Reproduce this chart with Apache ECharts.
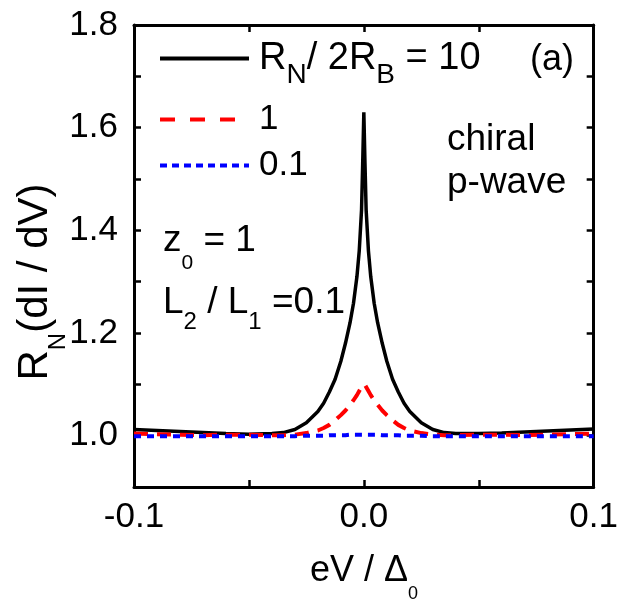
<!DOCTYPE html>
<html>
<head>
<meta charset="utf-8">
<script src="https://cdn.jsdelivr.net/npm/echarts@6/dist/echarts.min.js"></script>
<style>
  html, body { margin: 0; padding: 0; background: #fff; }
  #chart { width: 621px; height: 602px; }
</style>
</head>
<body>
<div id="chart"></div>
<script>
  // bias eV / Delta0 (denser near the zero-bias peak)
  var eV = [-0.1, -0.09, -0.08, -0.07, -0.06, -0.05, -0.04, -0.035, -0.03, -0.025, -0.02, -0.0175,
    -0.015, -0.0125, -0.01, -0.008, -0.006, -0.0045, -0.003, -0.002, -0.001, -0.0005, 0,
    0.0005, 0.001, 0.002, 0.003, 0.0045, 0.006, 0.008, 0.01, 0.0125, 0.015, 0.0175, 0.02,
    0.025, 0.03, 0.035, 0.04, 0.05, 0.06, 0.07, 0.08, 0.09, 0.1];
  // RN / 2RB = 10
  var ratio10 = [1.012, 1.010, 1.008, 1.006, 1.004, 1.003, 1.004, 1.006, 1.012, 1.025, 1.047, 1.063,
    1.085, 1.110, 1.145, 1.180, 1.220, 1.258, 1.310, 1.360, 1.440, 1.530, 1.630,
    1.530, 1.440, 1.360, 1.310, 1.258, 1.220, 1.180, 1.145, 1.110, 1.085, 1.063, 1.047,
    1.025, 1.012, 1.006, 1.004, 1.004, 1.005, 1.007, 1.009, 1.011, 1.013];
  // RN / 2RB = 1
  var ratio1 = [1.004, 1.003, 1.002, 1.001, 1.002, 1.002, 1.001, 1.001, 1.002, 1.005, 1.010, 1.015,
    1.021, 1.030, 1.040, 1.049, 1.060, 1.069, 1.079, 1.087, 1.095, 1.099, 1.102,
    1.099, 1.095, 1.087, 1.079, 1.069, 1.060, 1.049, 1.040, 1.030, 1.021, 1.015, 1.010,
    1.005, 1.002, 1.001, 1.001, 1.002, 1.002, 1.001, 1.002, 1.003, 1.004];
  // RN / 2RB = 0.1
  var ratio01 = [0.999, 0.999, 0.999, 0.999, 0.999, 0.999, 0.999, 0.999, 0.999, 1.000, 1.000, 1.000,
    1.001, 1.001, 1.001, 1.001, 1.002, 1.002, 1.002, 1.002, 1.002, 1.002, 1.002,
    1.002, 1.002, 1.002, 1.002, 1.002, 1.002, 1.001, 1.001, 1.001, 1.001, 1.000, 1.000,
    1.000, 0.999, 0.999, 0.999, 0.999, 0.999, 0.999, 0.999, 0.999, 0.999];
  var xLabels = ["-0.1", "0.0", "0.1"];
  var yLabels = ["1.0", "1.2", "1.4", "1.6", "1.8"];

  var FONT = "'Liberation Sans', Arial, sans-serif";
  var chartDom = echarts.init(document.getElementById("chart"), null, {renderer: "canvas"});

  function pairs(ys){
    return eV.map(function (x, i) { return [x, ys[i]]; });
  }
  function frameAxis(extra){
    var ax = {
      axisLine: {show: true, onZero: false, lineStyle: {color: "#000", width: 3}},
      axisTick: {show: true, inside: true, length: 7, lineStyle: {color: "#000", width: 2.5}},
      splitLine: {show: false},
      axisLabel: {show: false}
    };
    for (var k in extra) ax[k] = extra[k];
    return ax;
  }
  var tickLabel = {color: "#000", fontFamily: FONT, fontSize: 35};
  // legend entries: line only, no symbol in the middle
  function legendAt(extra){
    var lg = {left: 158, padding: 0, itemHeight: 10, selectedMode: false,
      itemStyle: {opacity: 0, borderWidth: 0}};
    for (var j in extra) lg[j] = extra[j];
    return lg;
  }

  var option = {
    animation: false,
    backgroundColor: "#fff",
    grid: {left: 134, top: 25, width: 461, height: 462, containLabel: false},
    xAxis: [
      frameAxis({type: "value", position: "bottom", min: -0.1, max: 0.1, interval: 0.05,
        axisLabel: Object.assign({show: true, margin: 13, showMaxLabel: true, showMinLabel: true,
          formatter: function (v) {
            var s = v.toFixed(1);
            return xLabels.indexOf(s) >= 0 && Math.abs(v * 10 - Math.round(v * 10)) < 1e-6 ? s : "";
          }}, tickLabel)}),
      frameAxis({type: "value", position: "top", min: -0.1, max: 0.1, interval: 0.05})
    ],
    yAxis: [
      frameAxis({type: "value", position: "left", min: 0.9, max: 1.8, interval: 0.1,
        axisLabel: Object.assign({show: true, margin: 16,
          formatter: function (v) {
            var s = v.toFixed(1);
            return yLabels.indexOf(s) >= 0 ? s : "";
          }}, tickLabel)}),
      frameAxis({type: "value", position: "right", min: 0.9, max: 1.8, interval: 0.1})
    ],
    legend: [
      legendAt({data: ["n10"], top: 28, itemWidth: 89, lineStyle: {width: 4},
        formatter: function () { return "{m|R}{s|N}{m|/ 2R}{s|B}{m| = 10}"; },
        textStyle: {padding: [0, 0, 0, 5], rich: {
          m: {fontSize: 38, lineHeight: 38, fontFamily: FONT, color: "#000"},
          s: {fontSize: 28, lineHeight: 28, fontFamily: FONT, color: "#000", padding: [33, 0, 0, 0]}
        }}}),
      legendAt({data: ["n1"], top: 102, itemWidth: 75, lineStyle: {width: 4, type: [15, 15]},
        formatter: function () { return "1"; },
        textStyle: {padding: [0, 0, 0, 19], fontSize: 35, lineHeight: 35, fontFamily: FONT, color: "#000"}}),
      legendAt({data: ["n01"], top: 148, itemWidth: 89, lineStyle: {width: 4, type: [7, 5]},
        formatter: function () { return "0.1"; },
        textStyle: {padding: [0, 0, 0, 5], fontSize: 35, lineHeight: 35, fontFamily: FONT, color: "#000"}})
    ],
    graphic: [
      {type: "text", left: 530, top: 42, style: {text: "(a)", font: "36px " + FONT, fill: "#000"}},
      {type: "text", x: 447, y: 140, style: {text: "chiral", font: "37px " + FONT, fill: "#000", verticalAlign: "middle"}},
      {type: "text", x: 447, y: 183, style: {text: "p-wave", font: "37px " + FONT, fill: "#000", verticalAlign: "middle"}},
      {type: "text", x: 163, y: 241, style: {
        text: "{m|z}{s|0}{m| = 1}", verticalAlign: "middle",
        rich: {m: {fontSize: 37, lineHeight: 37, fontFamily: FONT, fill: "#000"},
               s: {fontSize: 21, lineHeight: 21, fontFamily: FONT, fill: "#000", padding: [45, 0, 0, 0]}}}},
      {type: "text", x: 163, y: 303, style: {
        text: "{m|L}{s|2}{m| / L}{s|1}{m| =0.1}", verticalAlign: "middle",
        rich: {m: {fontSize: 37, lineHeight: 37, fontFamily: FONT, fill: "#000"},
               s: {fontSize: 24, lineHeight: 24, fontFamily: FONT, fill: "#000", padding: [38, 0, 0, 0]}}}},
      {type: "text", x: 364, y: 571, style: {
        text: "{m|eV / \u0394}{s|0}", align: "center", verticalAlign: "middle",
        rich: {m: {fontSize: 36, lineHeight: 36, fontFamily: FONT, fill: "#000"},
               s: {fontSize: 18, lineHeight: 18, fontFamily: FONT, fill: "#000", padding: [47, 0, 0, 0]}}}},
      {type: "text", x: 35, y: 282, rotation: Math.PI / 2, style: {
        text: "{m|R}{s|N}{m|(dI / dV)}", align: "center", verticalAlign: "middle",
        rich: {m: {fontSize: 42, lineHeight: 42, fontFamily: FONT, fill: "#000"},
               s: {fontSize: 24, lineHeight: 24, fontFamily: FONT, fill: "#000", padding: [46, 0, 0, 0]}}}}
    ],
    series: [
      {name: "n10", type: "line", data: pairs(ratio10), symbol: "none", smooth: false, z: 3,
        lineStyle: {color: "#000", width: 3.5}, itemStyle: {color: "#000"}},
      {name: "n1", type: "line", data: pairs(ratio1), symbol: "none", smooth: false, z: 4,
        lineStyle: {color: "#ff0000", width: 4, type: [14, 9]}, itemStyle: {color: "#ff0000"}},
      {name: "n01", type: "line", data: pairs(ratio01), symbol: "none", smooth: false, z: 5,
        lineStyle: {color: "#0000ff", width: 4, type: [7, 6]}, itemStyle: {color: "#0000ff"}}
    ]
  };
  chartDom.setOption(option);
</script>
</body>
</html>
